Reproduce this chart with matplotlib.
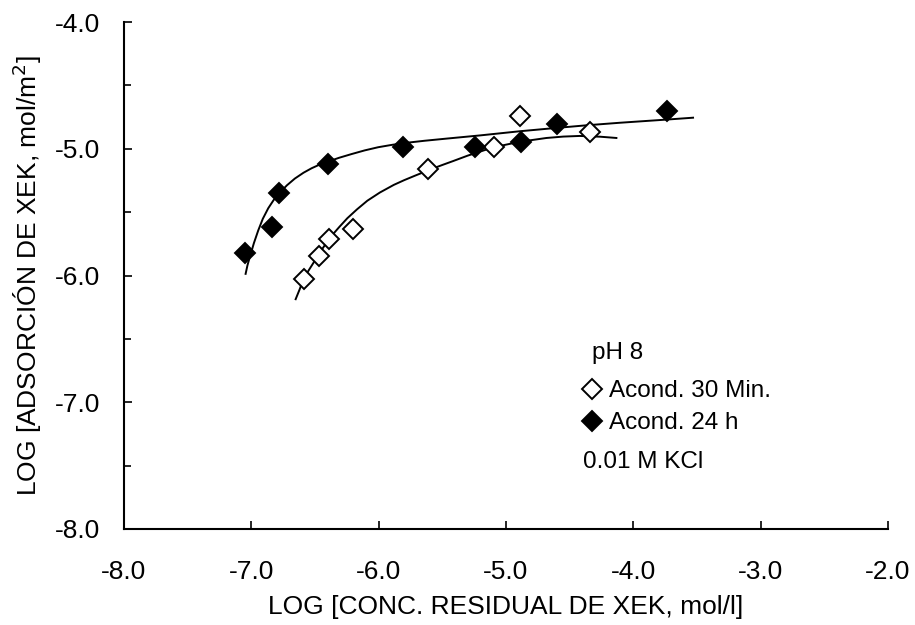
import matplotlib
matplotlib.use("Agg")
import matplotlib.pyplot as plt
from matplotlib.ticker import MultipleLocator, FormatStrFormatter

plt.rcParams['font.family'] = ['Liberation Sans', 'DejaVu Sans']

# Acond. 30 Min. (open diamonds)
x_30min = [-6.587, -6.472, -6.389, -6.200, -5.611, -5.096, -4.892, -4.337]
y_30min = [-6.027, -5.845, -5.711, -5.635, -5.162, -4.983, -4.741, -4.865]

# Acond. 24 h (filled diamonds)
x_24h = [-7.050, -6.841, -6.781, -6.401, -5.812, -5.245, -4.884, -4.596, -3.732]
y_24h = [-5.824, -5.619, -5.351, -5.120, -4.983, -4.983, -4.944, -4.807, -4.700]

# trend curves
fit_x_30min = [-6.652, -6.620, -6.593, -6.555, -6.514, -6.475, -6.425, -6.375, -6.310,
               -6.246, -6.170, -6.089, -5.990, -5.881, -5.800, -5.716, -5.598, -5.500,
               -5.415, -5.300, -5.153, -5.020, -4.892, -4.682, -4.550, -4.421, -4.260, -4.133]
fit_y_30min = [-6.187, -6.108, -6.035, -5.968, -5.903, -5.838, -5.764, -5.693, -5.618,
               -5.548, -5.478, -5.410, -5.345, -5.285, -5.248, -5.213, -5.165, -5.128,
               -5.097, -5.054, -5.006, -4.972, -4.945, -4.915, -4.904, -4.899, -4.905, -4.915]

fit_x_24h = [-7.045, -7.030, -7.011, -6.980, -6.946, -6.910, -6.867, -6.825, -6.781,
             -6.720, -6.658, -6.590, -6.527, -6.470, -6.409, -6.310, -6.213, -6.110,
             -6.004, -5.900, -5.808, -5.640, -5.467, -5.206, -4.892, -4.630, -4.368,
             -4.107, -3.740, -3.531]
fit_y_24h = [-5.987, -5.918, -5.851, -5.745, -5.645, -5.553, -5.469, -5.405, -5.351,
             -5.288, -5.235, -5.189, -5.154, -5.128, -5.105, -5.071, -5.042, -5.013,
             -4.988, -4.970, -4.956, -4.937, -4.920, -4.895, -4.862, -4.838, -4.815,
             -4.795, -4.770, -4.755]

labels = ['Acond. 30 Min.', 'Acond. 24 h']

W, H = 915, 625
fig = plt.figure(figsize=(W / 100, H / 100), dpi=100)
ax = fig.add_axes([124 / W, 1 - 529 / H, (888 - 124) / W, (529 - 22) / H])

ax.plot(fit_x_30min, fit_y_30min, color='black', lw=1.4, zorder=2)
ax.plot(fit_x_24h, fit_y_24h, color='black', lw=1.4, zorder=2)
h1, = ax.plot(x_30min, y_30min, 'D', ms=10, mfc='white', mec='black', mew=1.4,
              ls='none', label=labels[0], zorder=3)
h2, = ax.plot(x_24h, y_24h, 'D', ms=10, mfc='black', mec='black', mew=1.4,
              ls='none', label=labels[1], zorder=3)

ax.set_xlim(-8, -2)
ax.set_ylim(-8, -4)
ax.xaxis.set_major_locator(MultipleLocator(1))
ax.yaxis.set_major_locator(MultipleLocator(1))
ax.yaxis.set_minor_locator(MultipleLocator(0.5))
ax.xaxis.set_major_formatter(FormatStrFormatter('%.1f'))
ax.yaxis.set_major_formatter(FormatStrFormatter('%.1f'))
ax.tick_params(axis='both', which='major', direction='in', length=6, width=1.2,
               labelsize=19)
ax.tick_params(axis='x', pad=22)
ax.tick_params(axis='y', pad=17)
ax.tick_params(axis='y', which='minor', direction='in', length=5, width=1.2)

for s in ['top', 'right']:
    ax.spines[s].set_visible(False)
for s in ['left', 'bottom']:
    ax.spines[s].set_linewidth(1.5)

ax.set_xlabel('LOG [CONC. RESIDUAL DE XEK, mol/l]', fontsize=19, labelpad=8)
ax.set_ylabel('LOG [ADSORCIÓN DE XEK, mol/m$^2$]', fontsize=19, labelpad=8)

leg = fig.legend(handles=[h1, h2], loc='upper left', frameon=False, fontsize=17.5,
                 handlelength=1.0, handletextpad=0.2, labelspacing=0.42,
                 borderpad=0, borderaxespad=0,
                 bbox_to_anchor=(580 / W, 1 - 380 / H))
fig.text(592 / W, 1 - 353 / H, 'pH 8', fontsize=17.5, va='center', ha='left')
fig.text(583 / W, 1 - 462 / H, '0.01 M KCl', fontsize=17.5, va='center', ha='left')

fig.savefig('out.png', dpi=100)
